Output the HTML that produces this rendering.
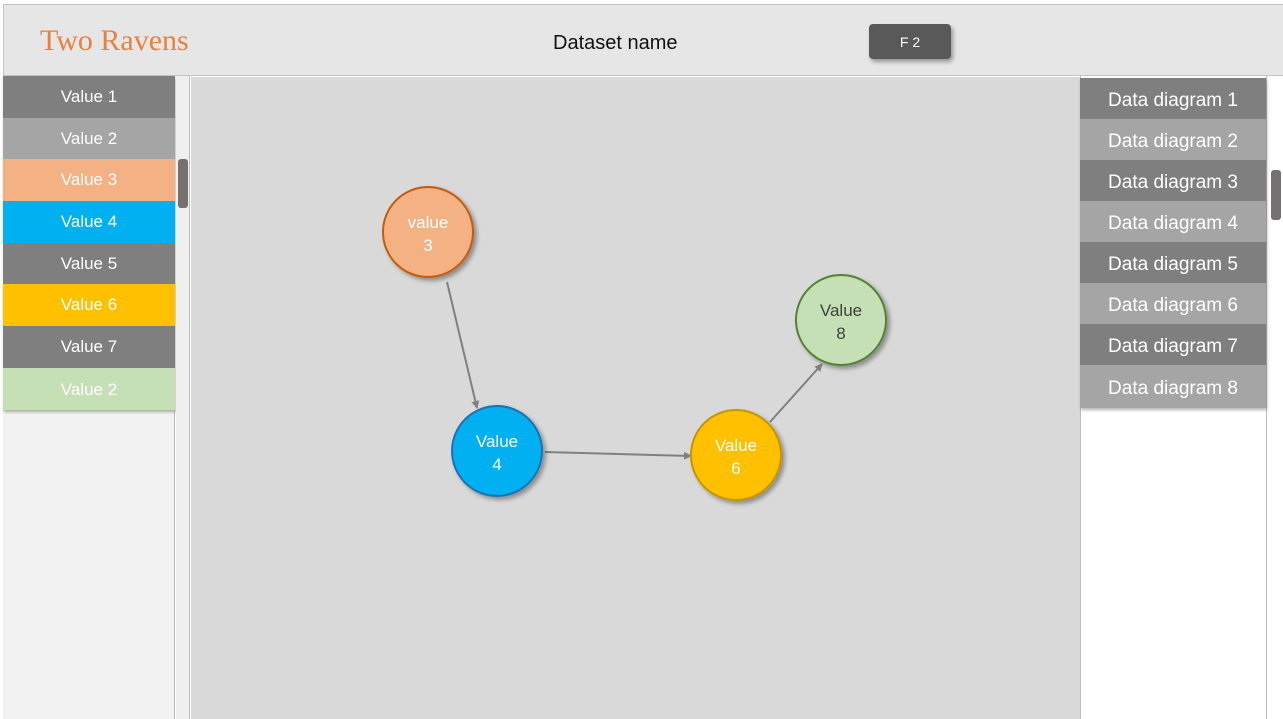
<!DOCTYPE html>
<html><head><meta charset="utf-8"><style>
*{margin:0;padding:0;box-sizing:border-box}
body{width:1283px;height:719px;position:relative;background:#fff;font-family:"Liberation Sans",sans-serif;overflow:hidden}
.abs{position:absolute}
.hdr{left:3px;top:4px;width:1280px;height:72px;background:#e6e6e6;border:1px solid #c4c4c4;border-right:none}
.item{position:absolute;left:0;width:172px;color:#fff;font-size:17px;display:flex;align-items:center;justify-content:center}
.ritem{position:absolute;left:0;width:186px;color:#fff;font-size:19px;display:flex;align-items:center;justify-content:center;height:41px;padding-top:4px}
</style></head><body>
<div class="abs hdr"></div>
<div class="abs" style="left:40px;top:24px;font-family:'Liberation Serif',serif;font-size:30px;color:#e9803f">Two Ravens</div>
<div class="abs" style="left:553px;top:32px;font-size:20px;color:#111">Dataset name</div>
<div class="abs" style="left:869px;top:24px;width:82px;height:35px;background:#595959;border-radius:4px;box-shadow:2px 3px 4px rgba(0,0,0,.35);color:#fff;font-size:14px;display:flex;align-items:center;justify-content:center">F 2</div>

<div class="abs" style="left:3px;top:76px;width:172px;height:643px;background:#f2f2f2;border-right:1px solid #bbb"></div>
<div class="abs" style="left:3px;top:76px;width:172px;height:334px;box-shadow:1px 2px 3px rgba(0,0,0,.3)">
<div class="item" style="top:0;height:42px;background:#7f7f7f">Value 1</div>
<div class="item" style="top:42px;height:41px;background:#a5a5a5">Value 2</div>
<div class="item" style="top:83px;height:42px;background:#f4b183">Value 3</div>
<div class="item" style="top:125px;height:42px;background:#00b0f0">Value 4</div>
<div class="item" style="top:167px;height:41px;background:#7f7f7f">Value 5</div>
<div class="item" style="top:208px;height:42px;background:#ffc000">Value 6</div>
<div class="item" style="top:250px;height:42px;background:#7f7f7f">Value 7</div>
<div class="item" style="top:292px;height:42px;background:#c5e0b4;padding-top:2px">Value 2</div>
</div>
<div class="abs" style="left:176px;top:76px;width:14px;height:643px;background:#efefef;border-right:1px solid #bbb"></div>
<div class="abs" style="left:178px;top:159px;width:10px;height:49px;background:#767171;border-radius:3px"></div>

<div class="abs" style="left:191px;top:77px;width:889px;height:642px;background:#d9d9d9"></div>

<div class="abs" style="left:1080px;top:76px;width:187px;height:643px;background:#fff;border-left:1px solid #bbb;border-right:1px solid #bbb"></div>
<div class="abs" style="left:1080px;top:78px;width:186px;height:330px;box-shadow:1px 2px 3px rgba(0,0,0,.3)">
<div class="ritem" style="top:0;background:#7f7f7f">Data diagram 1</div>
<div class="ritem" style="top:41px;background:#a5a5a5">Data diagram 2</div>
<div class="ritem" style="top:82px;background:#7f7f7f">Data diagram 3</div>
<div class="ritem" style="top:123px;background:#a5a5a5">Data diagram 4</div>
<div class="ritem" style="top:164px;background:#7f7f7f">Data diagram 5</div>
<div class="ritem" style="top:205px;background:#a5a5a5">Data diagram 6</div>
<div class="ritem" style="top:246px;background:#7f7f7f">Data diagram 7</div>
<div class="ritem" style="top:287px;background:#a5a5a5;height:43px">Data diagram 8</div>
</div>
<div class="abs" style="left:1271px;top:170px;width:10px;height:50px;background:#767171;border-radius:3px"></div>

<svg class="abs" style="left:0;top:0" width="1283" height="719">
<defs>
<marker id="a" markerWidth="8" markerHeight="8" refX="7" refY="4" orient="auto" markerUnits="userSpaceOnUse"><path d="M0,0 L8,4 L0,8 z" fill="#808080"/></marker>
<filter id="s" x="-20%" y="-20%" width="150%" height="150%"><feDropShadow dx="3" dy="3" stdDeviation="2" flood-color="#000" flood-opacity=".35"/></filter>
</defs>
<line x1="447" y1="282" x2="477" y2="408" stroke="#808080" stroke-width="2" marker-end="url(#a)"/>
<line x1="545" y1="452" x2="691" y2="456" stroke="#808080" stroke-width="2" marker-end="url(#a)"/>
<line x1="770" y1="422" x2="822" y2="364" stroke="#808080" stroke-width="2" marker-end="url(#a)"/>
<g filter="url(#s)">
<circle cx="428" cy="232" r="45" fill="#f4b183" stroke="#c55a11" stroke-width="2"/>
<circle cx="497" cy="451" r="45" fill="#00b0f0" stroke="#1f6fb4" stroke-width="2"/>
<circle cx="736" cy="455" r="45" fill="#ffc000" stroke="#c59500" stroke-width="2"/>
<circle cx="841" cy="320" r="45" fill="#c5e0b4" stroke="#538135" stroke-width="2"/>
</g>
<g font-family="Liberation Sans,sans-serif" font-size="17" text-anchor="middle">
<text x="428" y="228" fill="#fff">value</text><text x="428" y="251" fill="#fff">3</text>
<text x="497" y="447" fill="#fff">Value</text><text x="497" y="470" fill="#fff">4</text>
<text x="736" y="451" fill="#fff">Value</text><text x="736" y="474" fill="#fff">6</text>
<text x="841" y="316" fill="#404040">Value</text><text x="841" y="339" fill="#404040">8</text>
</g>
</svg>
</body></html>
